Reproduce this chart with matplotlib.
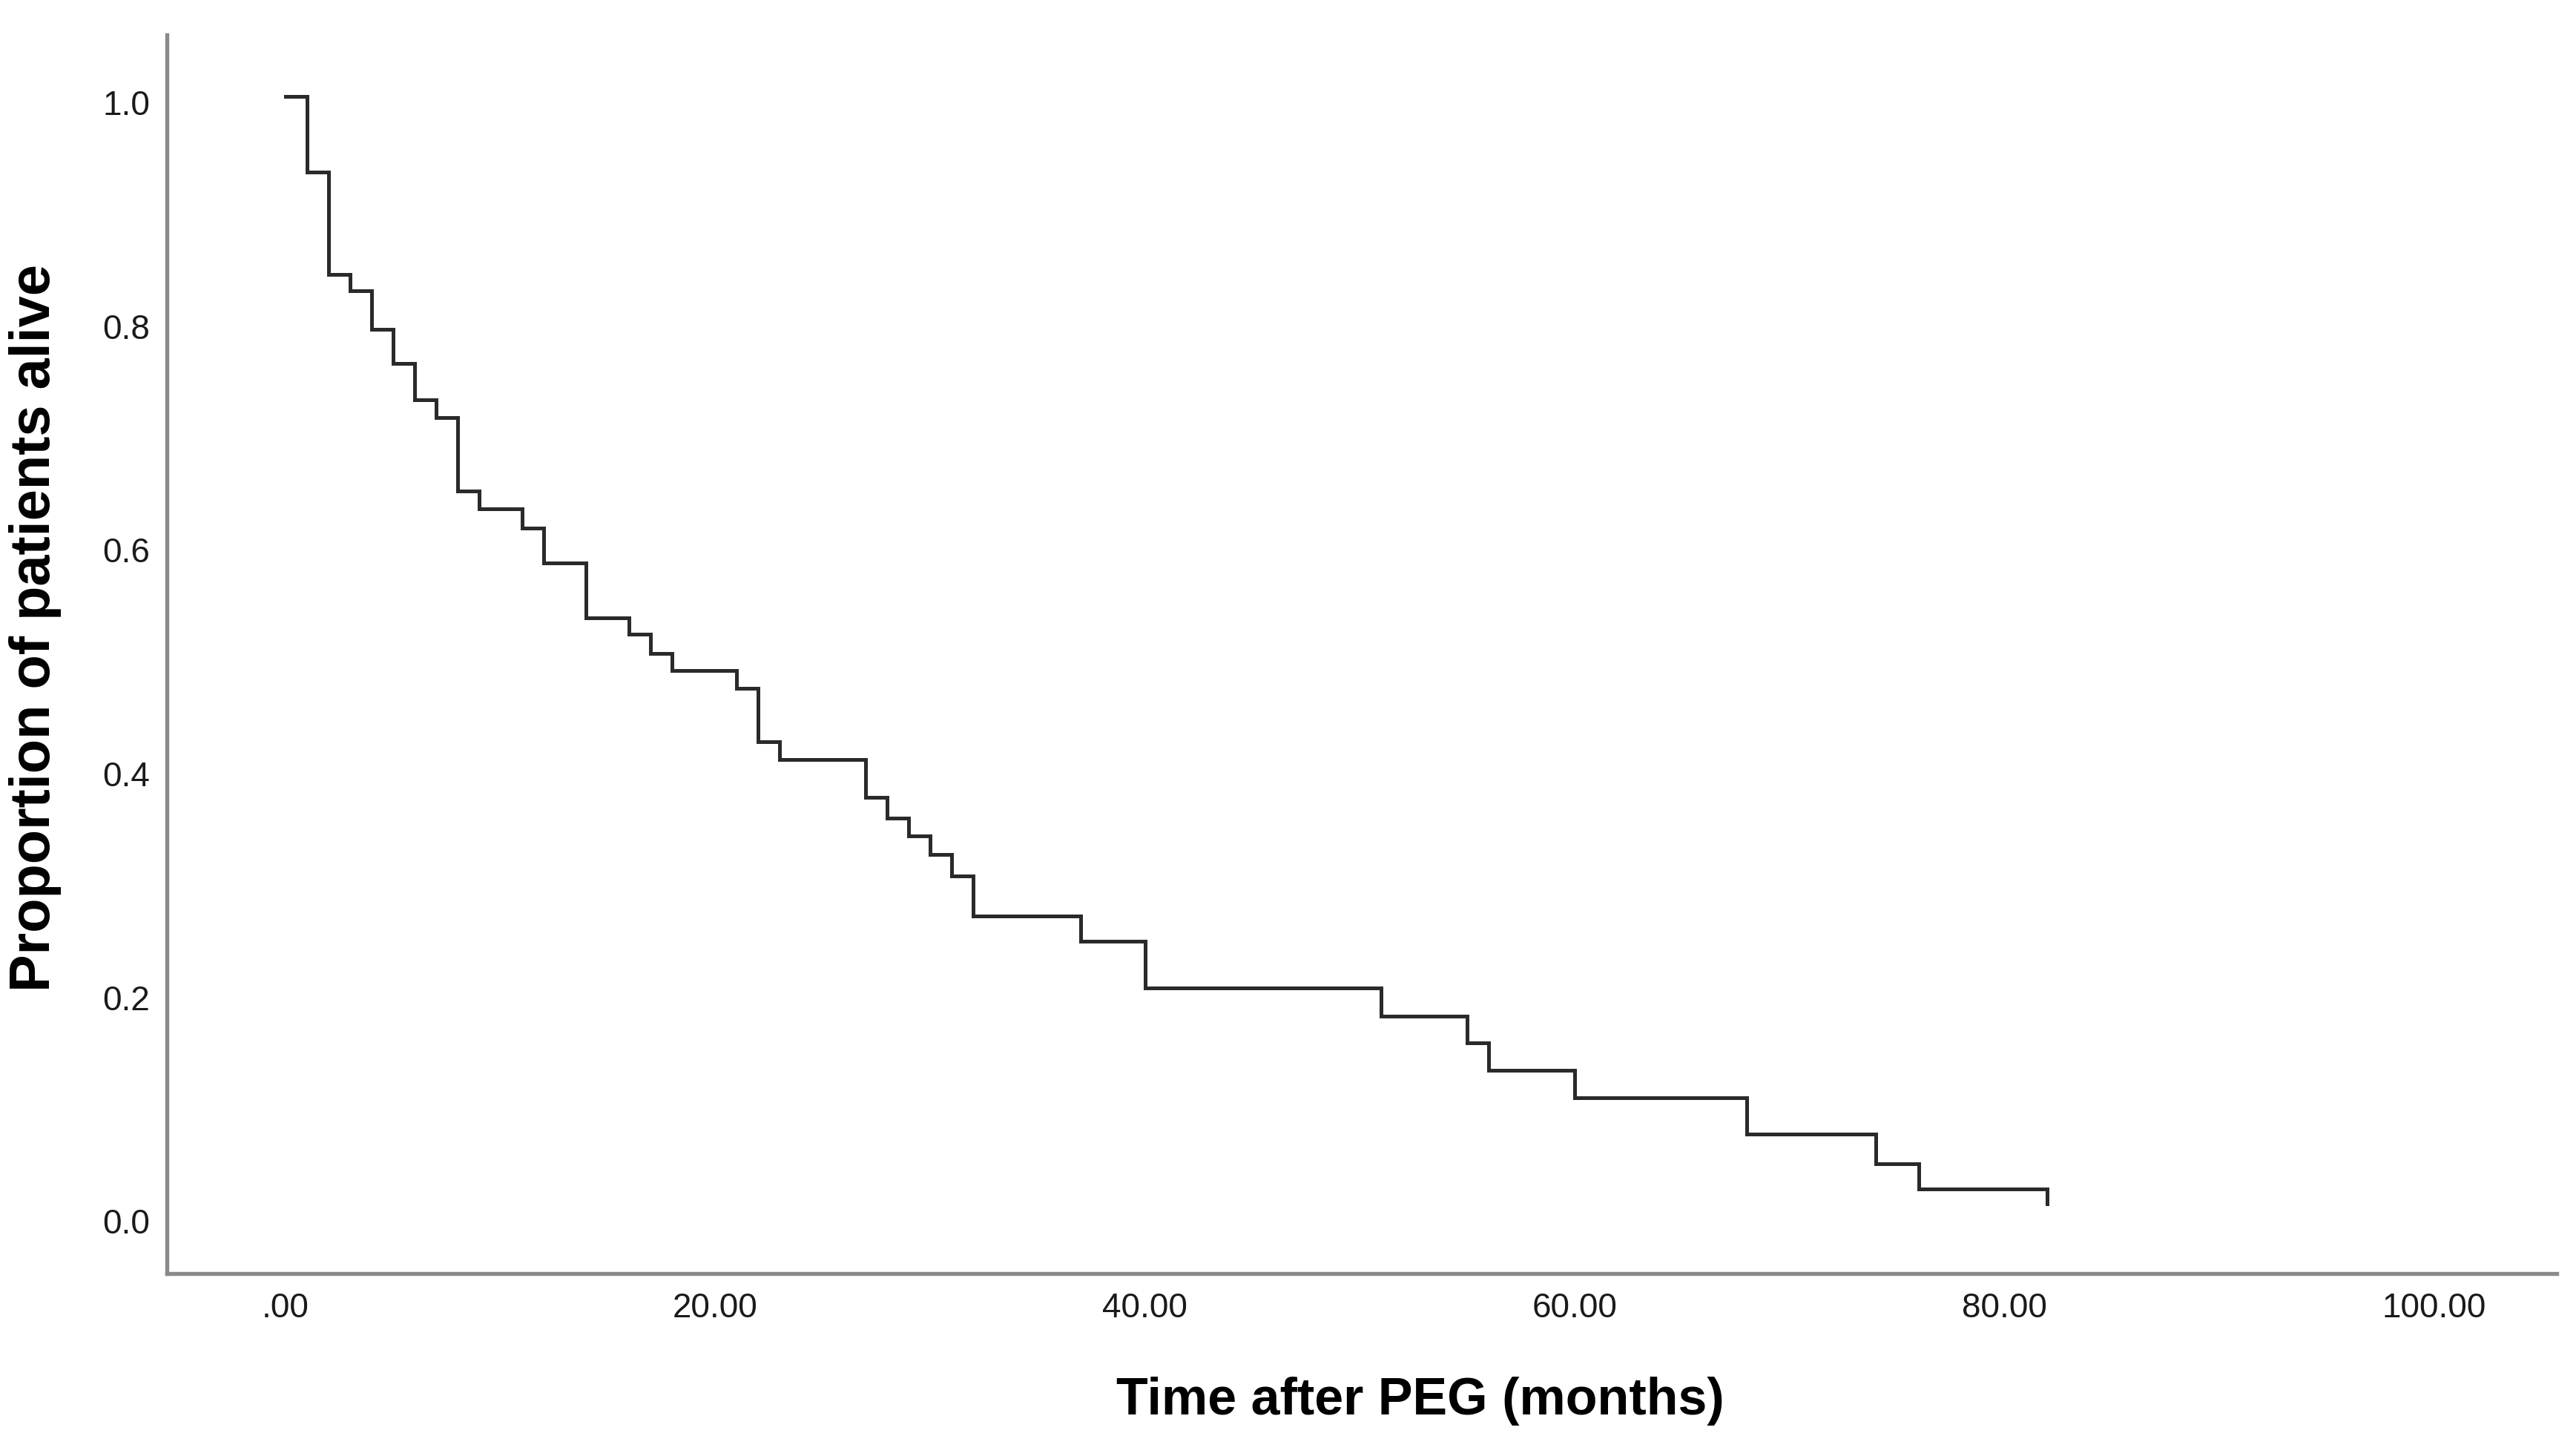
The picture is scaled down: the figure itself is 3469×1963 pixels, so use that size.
import matplotlib
matplotlib.use("Agg")
import matplotlib.pyplot as plt
from matplotlib.transforms import ScaledTranslation

# Kaplan-Meier step data
time_months = [0, 1, 2, 3, 4, 5, 6, 7, 8, 9, 11, 12, 14, 16, 17, 18, 21, 22, 23,
               27, 28, 29, 30, 31, 32, 37, 40, 51, 55, 56, 60, 68, 74, 76, 82]
prop_alive = [1.0, 0.932, 0.841, 0.826, 0.792, 0.761, 0.729, 0.713, 0.647, 0.631,
              0.614, 0.583, 0.534, 0.519, 0.502, 0.487, 0.471, 0.423, 0.407,
              0.373, 0.355, 0.339, 0.322, 0.303, 0.267, 0.245, 0.203, 0.178,
              0.154, 0.129, 0.105, 0.072, 0.046, 0.023, 0.010]

x_ticks = [0, 20, 40, 60, 80, 100]
x_tick_labels = [".00", "20.00", "40.00", "60.00", "80.00", "100.00"]
y_ticks = [0.0, 0.2, 0.4, 0.6, 0.8, 1.0]
y_tick_labels = ["0.0", "0.2", "0.4", "0.6", "0.8", "1.0"]

plt.rcParams['font.family'] = ['Liberation Sans', 'DejaVu Sans']

W, H, DPI = 3469, 1963, 300
fig = plt.figure(figsize=(W / DPI, H / DPI), dpi=DPI)
ax = fig.add_axes([225 / W, 1 - 1717 / H, (3447 - 225) / W, (1717 - 47) / H])

ax.plot(time_months, prop_alive, drawstyle='steps-post', color='#2a2a2a',
        linewidth=1.2, solid_joinstyle='miter')

ax.set_xlim(-5.52, 105.7)
ax.set_ylim(-0.0524, 1.055)

ax.set_xticks(x_ticks)
ax.set_xticklabels(x_tick_labels)
ax.set_yticks(y_ticks)
ax.set_yticklabels(y_tick_labels)

ax.tick_params(axis='both', length=0, labelsize=11, labelcolor='#1a1a1a')
ax.tick_params(axis='x', pad=6)
ax.tick_params(axis='y', pad=5.5)

# small downward nudge of y tick labels, as in the reference
offset = ScaledTranslation(0, -2 / 72, fig.dpi_scale_trans)
for lbl in ax.get_yticklabels():
    lbl.set_transform(lbl.get_transform() + offset)

for s in ['top', 'right']:
    ax.spines[s].set_visible(False)
for s in ['left', 'bottom']:
    ax.spines[s].set_color('#8a8a8a')
    ax.spines[s].set_linewidth(1.3)

ax.set_xlabel("Time after PEG (months)", fontsize=16.8, fontweight='bold', color='black')
ax.set_ylabel("Proportion of patients alive", fontsize=18.2, fontweight='bold', color='black')
ax.xaxis.set_label_coords(0.5245, -0.083)
ax.yaxis.set_label_coords(-0.044, 0.521)

fig.savefig("out.png", dpi=DPI, facecolor='white')
